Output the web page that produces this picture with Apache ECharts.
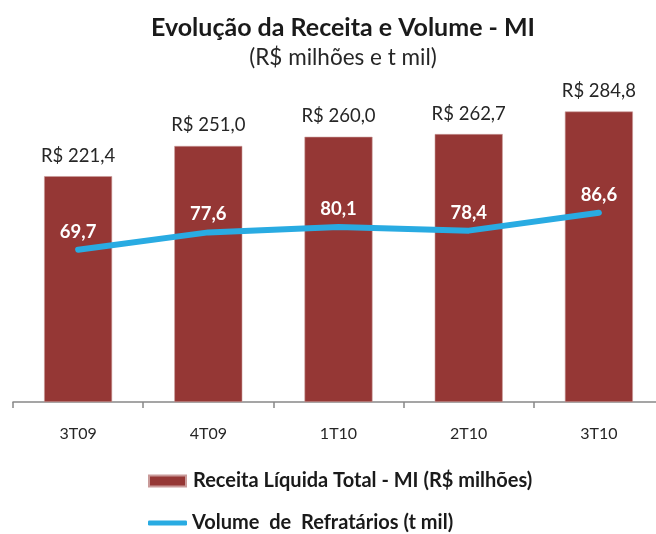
<!DOCTYPE html>
<html>
<head>
<meta charset="utf-8">
<title>Evolução da Receita e Volume - MI</title>
<script src="https://cdn.jsdelivr.net/npm/echarts@6/dist/echarts.min.js"></script>
<style>
  html, body { margin: 0; padding: 0; background: #fff; }
  #chart { width: 656px; height: 534px; }
</style>
</head>
<body>
<div id="chart"></div>
<script>
// dados
var categorias = ['3T09', '4T09', '1T10', '2T10', '3T10'];
var receita = [221.4, 251.0, 260.0, 262.7, 284.8];   // R$ milhões
var volume = [69.7, 77.6, 80.1, 78.4, 86.6];         // t mil

var nomeReceita = 'Receita Líquida Total - MI (R$ milhões)';
var nomeVolume = 'Volume  de  Refratários (t mil)';

var fonte = 'Lato, "Open Sans", sans-serif';

function fmt(v) {
    return v.toFixed(1).replace('.', ',');
}

var myChart = echarts.init(document.getElementById('chart'));
myChart.setOption({
    animation: false,
    textStyle: { fontFamily: fonte },
    title: {
        text: 'Evolução da Receita e Volume - MI',
        subtext: '(R$ milhões e t mil)',
        left: 338,
        textAlign: 'center',
        top: 10,
        itemGap: 6,
        textStyle: { fontFamily: fonte, fontSize: 25, fontWeight: 'bold', color: '#1a1a1a' },
        subtextStyle: { fontFamily: fonte, fontSize: 22.5, color: '#262626' }
    },
    legend: [{
        data: [nomeReceita],
        orient: 'vertical',
        left: 148,
        top: 471,
        padding: 0,
        itemWidth: 37,
        itemHeight: 11,
        icon: 'rect',
        textStyle: { fontFamily: fonte, fontSize: 20, fontWeight: 'bold', color: '#1a1a1a', padding: [0, 0, 0, 2] }
    }, {
        data: [nomeVolume],
        orient: 'vertical',
        left: 148,
        top: 513,
        padding: 0,
        itemWidth: 39,
        itemHeight: 5,
        icon: 'roundRect',
        textStyle: { fontFamily: fonte, fontSize: 20, fontWeight: 'bold', color: '#1a1a1a' }
    }],
    grid: {
        left: 13,
        width: 651,
        top: 96,
        height: 306,
        outerBoundsMode: 'none'
    },
    xAxis: [{
        type: 'category',
        data: categorias,
        axisLine: { lineStyle: { color: '#888', width: 1.5 } },
        axisTick: { show: true, length: 6, lineStyle: { color: '#888', width: 1.5 } },
        axisLabel: { fontFamily: fonte, fontSize: 16, color: '#262626', margin: 24 }
    }],
    yAxis: [{
        type: 'value',
        min: 0,
        max: 300,
        show: false,
        splitLine: { show: false }
    }, {
        type: 'value',
        min: 0,
        max: 140,
        show: false,
        splitLine: { show: false }
    }],
    series: [{
        name: nomeReceita,
        type: 'bar',
        data: receita,
        barWidth: 68,
        itemStyle: { color: '#953735', borderColor: '#c99a99', borderWidth: 0.6 },
        label: {
            show: true,
            position: 'top',
            distance: 11,
            fontFamily: fonte,
            fontSize: 18.5,
            color: '#262626',
            formatter: function(p) { return 'R$ ' + fmt(p.value); }
        }
    }, {
        name: nomeVolume,
        type: 'line',
        yAxisIndex: 1,
        data: volume,
        symbol: 'circle',
        symbolSize: 1,
        showSymbol: true,
        smooth: false,
        lineStyle: { color: '#29abe2', width: 6, cap: 'round', join: 'round' },
        itemStyle: { color: '#29abe2' },
        label: {
            show: true,
            position: 'top',
            distance: 8,
            fontFamily: fonte,
            fontSize: 18.5,
            fontWeight: 'bold',
            color: '#fff',
            formatter: function(p) { return fmt(p.value); }
        },
        z: 3
    }]
});
</script>
</body>
</html>
